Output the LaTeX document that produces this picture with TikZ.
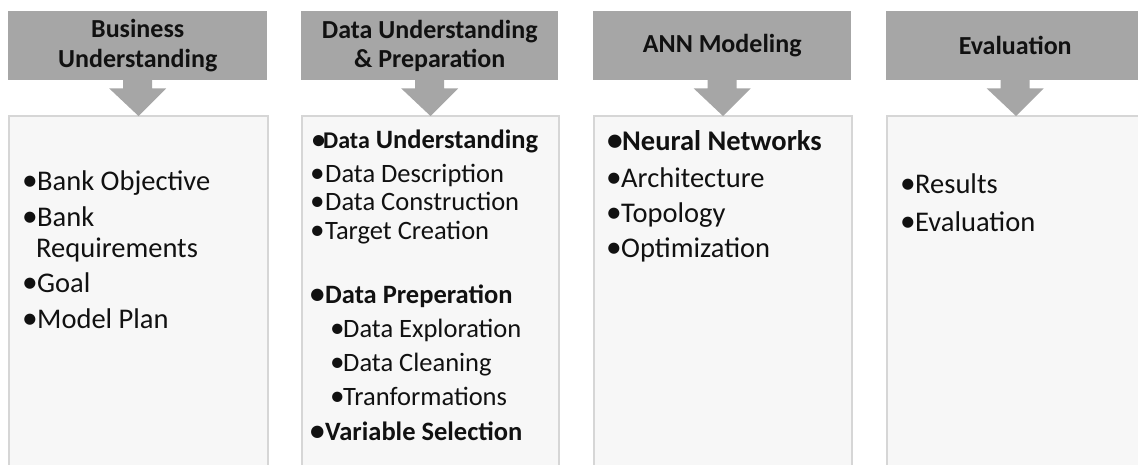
\documentclass[tikz,border=0pt]{standalone}
\usepackage{fontspec}
\setmainfont{Carlito}
\usetikzlibrary{calc}
\definecolor{hdrgray}{HTML}{A6A6A6}
\definecolor{bodyfill}{HTML}{F7F7F7}
\definecolor{bodyline}{HTML}{D6D6D6}
\definecolor{txt}{HTML}{111111}
\newcommand{\bul}[2][15pt]{\makebox[#1][l]{\makebox[0pt][l]{\scalebox{1.1}{•}}}#2}
\begin{document}
\begin{tikzpicture}[x=1pt,y=-1pt,
  header/.style={fill=hdrgray, draw=none, minimum height=69pt, inner sep=0pt,
    anchor=north west, align=center, text=txt,
    font=\fontsize{26}{29.5}\selectfont\bfseries},
  bodybox/.style={fill=bodyfill, draw=bodyline, line width=2pt, minimum height=380pt,
    inner sep=0pt, anchor=north west},
  itemA/.style={anchor=base west, inner sep=0pt, text=txt, font=\fontsize{28.5}{30}\selectfont},
  itemB/.style={anchor=base west, inner sep=0pt, text=txt, font=\fontsize{26.5}{28}\selectfont},
  arrowfill/.style={fill=hdrgray, draw=none}
]
\useasboundingbox (0,0) rectangle (1138,464);
\clip (0,0) rectangle (1138,464);
\fill[white] (0,0) rectangle (1138,464);

% headers
\node[header, minimum width=259pt] (h1) at (8,11) {Business\\Understanding};
\node[header, minimum width=257pt] (h2) at (301,11) {Data Understanding\\\& Preparation};
\node[header, minimum width=258pt] (h3) at (593,11) {ANN Modeling};
\node[header, minimum width=258pt] (h4) at (886,11) {Evaluation};

% bodies
\node[bodybox, minimum width=259pt] (b1) at (8,115) {};
\node[bodybox, minimum width=257pt] (b2) at (301,115) {};
\node[bodybox, minimum width=258pt] (b3) at (593,115) {};
\node[bodybox, minimum width=258pt] (b4) at (886,115) {};

% arrows
\foreach \i in {1,2,3,4}{
  \fill[arrowfill] ($(h\i.south)+(-14.5,-1)$) -- ($(h\i.south)+(14.5,-1)$)
    -- ($(h\i.south)+(14.5,8)$) -- ($(h\i.south)+(28.5,8)$)
    -- ($(b\i.north)+(0,1)$) -- ($(h\i.south)+(-28.5,8)$)
    -- ($(h\i.south)+(-14.5,8)$) -- cycle;
}

% column 1
\node[itemA] (t11) at (22,190) {\bul{Bank Objective}};
\node[itemA] (t12) at (22,226) {\bul{Bank}};
\node[itemA] (t13) at (36,257) {Requirements};
\node[itemA] (t14) at (22,292) {\bul{Goal}};
\node[itemA] (t15) at (22,328) {\bul{Model Plan}};

% column 2
\node[itemB] (t21) at (312,148) {{\fontsize{24}{24}\selectfont\bfseries\bul[11pt]{Data}} {\bfseries Understanding}};
\node[itemB] (t22) at (310,182) {\bul{Data Description}};
\node[itemB] (t23) at (310,210) {\bul{Data Construction}};
\node[itemB] (t24) at (310,239) {\bul{Target Creation}};
\node[itemB, font=\fontsize{26.5}{28}\selectfont\bfseries] (t25) at (310,303) {\bul{Data Preperation}};
\node[itemB] (t26) at (330,337) {\bul[13pt]{Data Exploration}};
\node[itemB] (t27) at (330,371) {\bul[13pt]{Data Cleaning}};
\node[itemB] (t28) at (330,405) {\bul[13pt]{Tranformations}};
\node[itemB, font=\fontsize{26.5}{28}\selectfont\bfseries] (t29) at (310,440) {\bul{Variable Selection}};

% column 3
\node[itemA, font=\fontsize{28.5}{30}\selectfont\bfseries] (t31) at (607,150) {\bul{Neural Networks}};
\node[itemA] (t32) at (606,187) {\bul{Architecture}};
\node[itemA] (t33) at (606,222) {\bul{Topology}};
\node[itemA] (t34) at (606,257) {\bul{Optimization}};

% column 4
\node[itemA] (t41) at (900,193) {\bul{Results}};
\node[itemA] (t42) at (900,231) {\bul{Evaluation}};
\end{tikzpicture}
\end{document}
